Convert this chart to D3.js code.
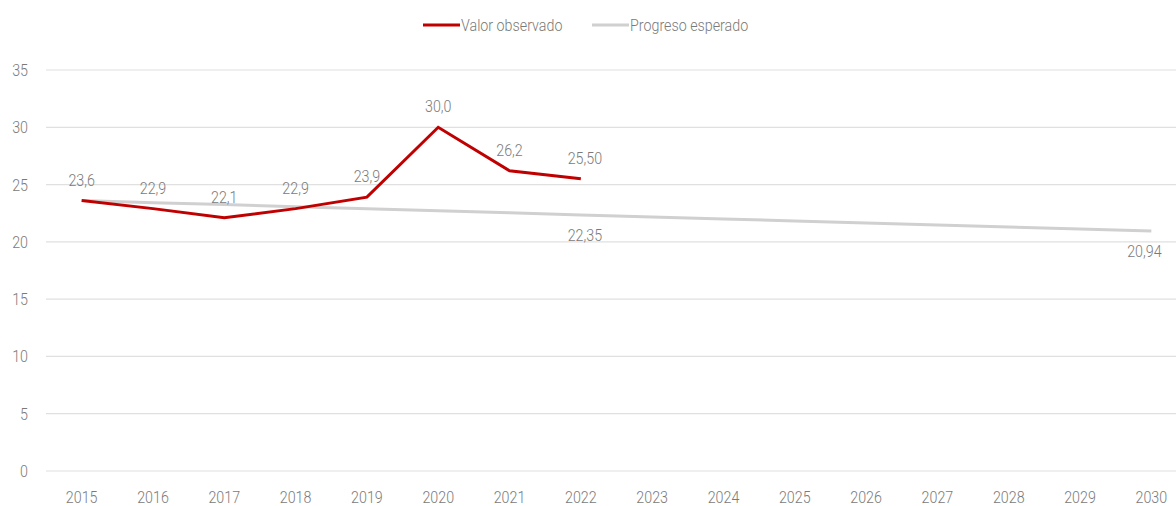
<!DOCTYPE html>
<html>
<head>
<meta charset="utf-8">
<script src="https://cdn.jsdelivr.net/npm/d3@7"></script>
<style>
  body { margin: 0; background: #fff; }
  svg text { font-family: "Roboto", "Liberation Sans", sans-serif; fill: #7a7a7a; font-size: 17px; font-weight: 300; }
</style>
</head>
<body>
<svg width="1176" height="506"></svg>
<script>
// years on the x axis
var years = [2015, 2016, 2017, 2018, 2019, 2020, 2021, 2022, 2023, 2024, 2025, 2026, 2027, 2028, 2029, 2030]
// observed values (2015-2022)
var observado = [23.6, 22.9, 22.1, 22.9, 23.9, 30.0, 26.2, 25.5]
var observadoLabels = ['23,6', '22,9', '22,1', '22,9', '23,9', '30,0', '26,2', '25,50']
// expected progress path
var esperado = [23.6, 23.42, 23.25, 23.07, 22.89, 22.71, 22.54, 22.35, 22.18, 22.0, 21.83, 21.65, 21.47, 21.29, 21.12, 20.94]
var esperadoLabels = { 2022: '22,35', 2030: '20,94' }
var yTicks = [0, 5, 10, 15, 20, 25, 30, 35]

var squeeze = 0.84 // narrow look of the original font

var svg = d3.select('svg')

var x = d3.scalePoint()
  .domain(years)
  .range([46, 1187])
  .padding(0.5)

var y = d3.scaleLinear()
  .domain([0, 35])
  .range([471, 70])

// place a squeezed text at (px, py)
function put (sel, px, py) {
  sel.attr('transform', (d, i) => 'translate(' + px(d, i) + ',' + py(d, i) + ') scale(' + squeeze + ',1)')
}

// gridlines
svg.append('g')
  .selectAll('line')
  .data(yTicks)
  .enter()
  .append('line')
  .attr('x1', 46)
  .attr('x2', 1187)
  .attr('y1', d => y(d))
  .attr('y2', d => y(d))
  .attr('stroke', '#e0e0e0')
  .attr('stroke-width', 1.2)

// y labels
svg.append('g')
  .selectAll('text')
  .data(yTicks)
  .enter()
  .append('text')
  .call(put, d => 28, d => y(d))
  .attr('dy', '0.35em')
  .attr('text-anchor', 'end')
  .text(d => d)

// x labels
svg.append('g')
  .selectAll('text')
  .data(years)
  .enter()
  .append('text')
  .call(put, d => x(d), d => 497)
  .attr('dy', '0.35em')
  .attr('text-anchor', 'middle')
  .text(d => d)

var line = d3.line()
  .x(d => x(d.year))
  .y(d => y(d.value))

var espData = years.map((yr, i) => ({ year: yr, value: esperado[i] }))
var obsData = observado.map((v, i) => ({ year: years[i], value: v }))

svg.append('path')
  .datum(espData)
  .attr('d', line)
  .attr('fill', 'none')
  .attr('stroke', '#d0d0d0')
  .attr('stroke-width', 3)

svg.append('path')
  .datum(obsData)
  .attr('d', line)
  .attr('fill', 'none')
  .attr('stroke', '#c00000')
  .attr('stroke-width', 3)

// observed labels
svg.append('g')
  .selectAll('text')
  .data(obsData)
  .enter()
  .append('text')
  .call(put, (d, i) => x(d.year) + (i === 7 ? 4 : 0), d => y(d.value) - 21)
  .attr('dy', '0.35em')
  .attr('text-anchor', 'middle')
  .text((d, i) => observadoLabels[i])

// expected labels
svg.append('g')
  .selectAll('text')
  .data(espData.filter(d => esperadoLabels[d.year]))
  .enter()
  .append('text')
  .call(put, d => x(d.year) + (d.year === 2030 ? -7 : 4), d => y(d.value) + 20)
  .attr('dy', '0.35em')
  .attr('text-anchor', 'middle')
  .text(d => esperadoLabels[d.year])

// legend
var legend = [
  { name: 'Valor observado', color: '#c00000', x: 423 },
  { name: 'Progreso esperado', color: '#d0d0d0', x: 592 }
]
var lg = svg.append('g')
lg.selectAll('line')
  .data(legend)
  .enter()
  .append('line')
  .attr('x1', d => d.x)
  .attr('x2', d => d.x + 37)
  .attr('y1', 25)
  .attr('y2', 25)
  .attr('stroke', d => d.color)
  .attr('stroke-width', 3)
lg.selectAll('text')
  .data(legend)
  .enter()
  .append('text')
  .call(put, d => d.x + 38, d => 25)
  .attr('dy', '0.35em')
  .text(d => d.name)
</script>
</body>
</html>
